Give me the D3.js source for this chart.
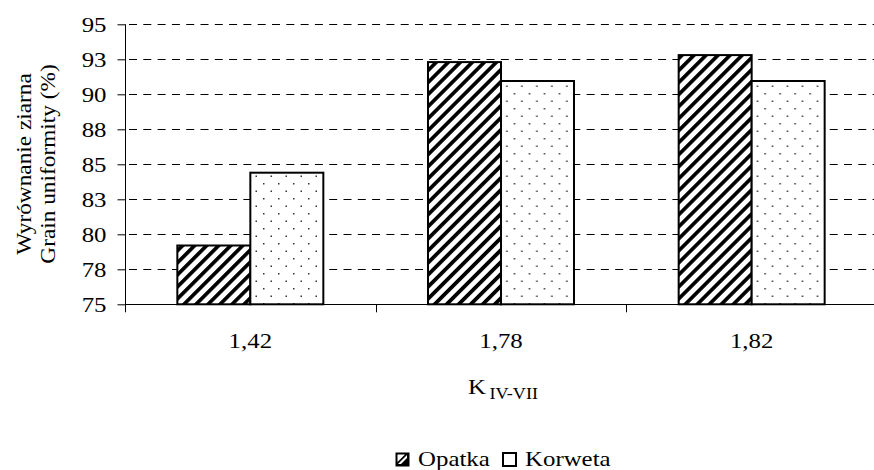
<!DOCTYPE html>
<html>
<head>
<meta charset="utf-8">
<script src="https://cdn.jsdelivr.net/npm/d3@7"></script>
<style>
  html, body { margin: 0; padding: 0; background: #fff; }
  svg { display: block; }
</style>
</head>
<body>
<svg id="chart" width="874" height="470" font-family="'Liberation Serif', 'Times New Roman', Times, serif" font-size="22"></svg>
<script>
const categories = ["1,42", "1,78", "1,82"];
const seriesNames = ["Opatka", "Korweta"];
const opatka = [79.2, 92.3, 92.8];
const korweta = [84.4, 90.95, 90.95];
const yTicks = [75, 77.5, 80, 82.5, 85, 87.5, 90, 92.5, 95];
const yTitle = ["Wyrównanie ziarna", "Grain uniformity (%)"];
const xTitleMain = "K";
const xTitleSub = "IV-VII";

(function () {
const FONT = "'Liberation Serif', 'Times New Roman', Times, serif";
const SX = 1.13; // horizontal stretch of the original text
const data = categories.map((c, i) => ({ cat: c, Opatka: opatka[i], Korweta: korweta[i] }));

const svg = d3.select("#chart");
const pLeft = 125, pRight = 877, pTop = 24.3, pBottom = 304.3;

const y = d3.scaleLinear().domain([75, 95]).range([pBottom, pTop]);
const x0 = d3.scaleBand().domain(categories).range([pLeft, pRight]).paddingInner(0).paddingOuter(0);
const x1 = d3.scaleBand().domain(seriesNames).range([0, x0.bandwidth()]).paddingInner(0).paddingOuter(0.717);

// patterns
const defs = svg.append("defs");
const hatch = defs.append("pattern").attr("id", "hatch").attr("patternUnits", "userSpaceOnUse")
  .attr("width", 8.5).attr("height", 8.5).attr("patternTransform", "rotate(45)");
hatch.append("rect").attr("width", 8.5).attr("height", 8.5).attr("fill", "#fff");
hatch.append("rect").attr("x", 0).attr("y", 0).attr("width", 3.7).attr("height", 8.5).attr("fill", "#000");

const dots = defs.append("pattern").attr("id", "dots").attr("patternUnits", "userSpaceOnUse")
  .attr("width", 15).attr("height", 15);
dots.append("rect").attr("width", 15).attr("height", 15).attr("fill", "#fff");
dots.append("rect").attr("x", 3).attr("y", 3).attr("width", 1.5).attr("height", 1.5).attr("fill", "#333");
dots.append("rect").attr("x", 10.5).attr("y", 10.5).attr("width", 1.5).attr("height", 1.5).attr("fill", "#333");

const fills = { Opatka: "url(#hatch)", Korweta: "url(#dots)" };

// gridlines
svg.append("g").selectAll("line").data(yTicks.filter(t => t > 75)).join("line")
  .attr("x1", pLeft).attr("x2", pRight)
  .attr("y1", d => Math.round(y(d)) + 0.5).attr("y2", d => Math.round(y(d)) + 0.5)
  .attr("stroke", "#000").attr("stroke-width", 1).attr("stroke-dasharray", "8,6.3")
  .attr("stroke-dashoffset", -4);

// bars
const groups = svg.append("g").selectAll("g").data(data).join("g")
  .attr("transform", d => `translate(${x0(d.cat)},0)`);
groups.selectAll("rect").data(d => seriesNames.map(s => ({ s, v: d[s] }))).join("rect")
  .attr("x", d => x1(d.s))
  .attr("y", d => y(d.v))
  .attr("width", x1.bandwidth())
  .attr("height", d => y(75) - y(d.v))
  .attr("fill", d => fills[d.s])
  .attr("stroke", "#000").attr("stroke-width", 2);

// y axis
const yAxis = d3.axisLeft(y).tickValues(yTicks).tickSize(8).tickPadding(11)
  .tickFormat(d => String(Math.round(d)));
const gy = svg.append("g").attr("transform", `translate(${pLeft + 0.5},0)`).call(yAxis);
gy.attr("font-family", FONT).attr("font-size", 22);
gy.select(".domain").attr("d", `M0,${pTop}V${pBottom}`).attr("stroke", "#000");
gy.selectAll(".tick line").attr("stroke", "#000");
gy.selectAll(".tick text").attr("fill", "#000").attr("x", 0).attr("dy", "0.34em")
  .attr("transform", `translate(-19,0) scale(${SX},1)`);

// x axis line and category boundary ticks
const gx = svg.append("g");
gx.append("line").attr("x1", pLeft).attr("x2", pRight).attr("y1", pBottom + 0.2).attr("y2", pBottom + 0.2)
  .attr("stroke", "#000").attr("stroke-width", 1);
const bounds = categories.map(c => x0(c)).concat([pRight]);
gx.selectAll("line.b").data(bounds).join("line").attr("class", "b")
  .attr("x1", d => Math.round(d) + 0.5).attr("x2", d => Math.round(d) + 0.5)
  .attr("y1", pBottom).attr("y2", pBottom + 8).attr("stroke", "#000");
gx.selectAll("text").data(categories).join("text")
  .attr("transform", d => `translate(${x0(d) + x0.bandwidth() / 2},348) scale(${SX},1)`)
  .attr("text-anchor", "middle").attr("font-family", FONT).attr("font-size", 22).text(d => d);

// x title
const xt = svg.append("text").attr("transform", `translate(503,394) scale(${SX},1)`).attr("text-anchor", "middle")
  .attr("font-family", FONT).attr("font-size", 22);
xt.append("tspan").text(xTitleMain);
xt.append("tspan").attr("dx", 3).attr("dy", 5).attr("font-size", 16).text(xTitleSub);

// y title
svg.selectAll("text.yt").data(yTitle).join("text").attr("class", "yt")
  .attr("transform", (d, i) => `translate(${31 + i * 24},164) rotate(-90) scale(1.06,1)`)
  .attr("text-anchor", "middle").attr("font-family", FONT).attr("font-size", 22).text(d => d);

// legend
const lg = svg.append("g").attr("transform", "translate(395,452)");
const items = [{ s: "Opatka", x: 0 }, { s: "Korweta", x: 107 }];
items.forEach(it => {
  const g = lg.append("g").attr("transform", `translate(${it.x},0)`);
  if (it.s === "Opatka") {
    g.append("rect").attr("x", 0.5).attr("y", 0.5).attr("width", 14).attr("height", 14).attr("fill", "#000");
    g.append("path").attr("d", "M3,12 L12,3 L12,6 L6,12 Z").attr("fill", "#fff");
    g.append("path").attr("d", "M2.5,2.5 L10,2.5 L2.5,10 Z").attr("fill", "#fff");
  } else {
    g.append("rect").attr("x", 1).attr("y", 1).attr("width", 13).attr("height", 13).attr("fill", "#fff")
      .attr("stroke", "#000").attr("stroke-width", 2);
  }
  g.append("text").attr("transform", `translate(23,14) scale(${SX},1)`)
    .attr("font-family", FONT).attr("font-size", 22).text(it.s);
});
})();
</script>
</body>
</html>
